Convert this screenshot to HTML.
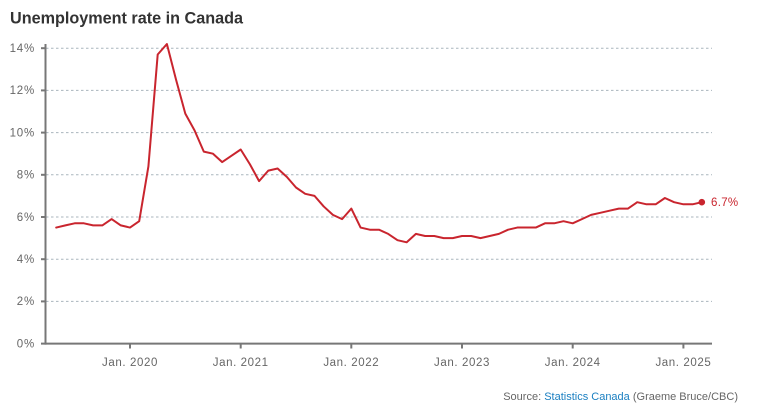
<!DOCTYPE html>
<html>
<head>
<meta charset="utf-8">
<style>
  html, body { margin: 0; padding: 0; background: #fff; }
  body { width: 770px; height: 407px; overflow: hidden; }
  svg { display: block; }
  text { font-family: "Liberation Sans", "DejaVu Sans", sans-serif; }
</style>
</head>
<body>
<svg width="770" height="407" viewBox="0 0 770 407" xmlns="http://www.w3.org/2000/svg">
  <!-- Title -->
  <text x="10" y="23.5" font-size="16.2" font-weight="bold" fill="#333">Unemployment rate in Canada</text>

  <!-- Gridlines -->
  <g stroke="#a9b5bd" stroke-width="1" stroke-dasharray="2.5,2.5">
    <line x1="46" y1="48.2" x2="712" y2="48.2"/>
    <line x1="46" y1="90.4" x2="712" y2="90.4"/>
    <line x1="46" y1="132.6" x2="712" y2="132.6"/>
    <line x1="46" y1="174.8" x2="712" y2="174.8"/>
    <line x1="46" y1="217.0" x2="712" y2="217.0"/>
    <line x1="46" y1="259.2" x2="712" y2="259.2"/>
    <line x1="46" y1="301.4" x2="712" y2="301.4"/>
  </g>

  <!-- Y tick labels -->
  <g font-size="11.5" fill="#666" text-anchor="end" letter-spacing="0.8">
    <text x="35" y="52">14%</text>
    <text x="35" y="94.2">12%</text>
    <text x="35" y="136.4">10%</text>
    <text x="35" y="178.6">8%</text>
    <text x="35" y="220.8">6%</text>
    <text x="35" y="263">4%</text>
    <text x="35" y="305.2">2%</text>
    <text x="35" y="347.4">0%</text>
  </g>

  <!-- Axes -->
  <g stroke="#777" stroke-width="2">
    <line x1="45.5" y1="44" x2="45.5" y2="344.6"/>
    <line x1="41" y1="343.6" x2="712" y2="343.6"/>
    <line x1="41" y1="48.2" x2="45" y2="48.2"/>
    <line x1="41" y1="90.4" x2="45" y2="90.4"/>
    <line x1="41" y1="132.6" x2="45" y2="132.6"/>
    <line x1="41" y1="174.8" x2="45" y2="174.8"/>
    <line x1="41" y1="217.0" x2="45" y2="217.0"/>
    <line x1="41" y1="259.2" x2="45" y2="259.2"/>
    <line x1="41" y1="301.4" x2="45" y2="301.4"/>
    <line x1="130" y1="343.6" x2="130" y2="348.5"/>
    <line x1="240.7" y1="343.6" x2="240.7" y2="348.5"/>
    <line x1="351.3" y1="343.6" x2="351.3" y2="348.5"/>
    <line x1="462" y1="343.6" x2="462" y2="348.5"/>
    <line x1="572.7" y1="343.6" x2="572.7" y2="348.5"/>
    <line x1="683.4" y1="343.6" x2="683.4" y2="348.5"/>
  </g>

  <!-- X tick labels -->
  <g font-size="11.5" fill="#666" text-anchor="middle" letter-spacing="0.6">
    <text x="130" y="366">Jan. 2020</text>
    <text x="240.7" y="366">Jan. 2021</text>
    <text x="351.3" y="366">Jan. 2022</text>
    <text x="462" y="366">Jan. 2023</text>
    <text x="572.7" y="366">Jan. 2024</text>
    <text x="683.4" y="366">Jan. 2025</text>
  </g>

  <!-- Series -->
  <polyline fill="none" stroke="#c9252e" stroke-width="2" stroke-linejoin="round" stroke-linecap="round"
    points="56.2,227.55 65.4,225.4 74.7,223.3 83.9,223.3 93.1,225.4 102.3,225.4 111.6,219.1 120.8,225.4 130,227.55 139.2,221.2 148.4,166.4 157.7,54.5 166.9,44.0 176.1,79.85 185.3,113.6 194.6,130.5 203.8,151.6 213.0,153.7 222.2,162.1 231.4,155.8 240.7,149.5 249.9,164.25 259.1,181.1 268.3,170.6 277.6,168.5 286.8,176.9 296.0,187.5 305.2,193.8 314.5,195.9 323.7,206.45 332.9,214.9 342.1,219.1 351.3,208.6 360.6,227.55 369.8,229.7 379.0,229.7 388.2,233.9 397.5,240.2 406.7,242.3 415.9,233.9 425.1,236.0 434.3,236.0 443.6,238.1 452.8,238.1 462.0,236.0 471.2,236.0 480.5,238.1 489.7,236.0 498.9,233.9 508.1,229.7 517.3,227.55 526.6,227.55 535.8,227.55 545.0,223.3 554.2,223.3 563.5,221.2 572.7,223.3 581.9,219.1 591.1,214.9 600.3,212.8 609.6,210.7 618.8,208.6 628.0,208.6 637.2,202.2 646.5,204.3 655.7,204.3 664.9,198.0 674.1,202.2 683.4,204.3 692.6,204.3 701.8,202.2"/>
  <circle cx="701.8" cy="202.2" r="3.3" fill="#c9252e"/>
  <text x="711" y="206" font-size="11.5" fill="#c9252e" letter-spacing="0.3">6.7%</text>

  <!-- Source -->
  <text x="738" y="400" font-size="11" fill="#666" text-anchor="end">Source: <tspan fill="#1a7fc1">Statistics Canada</tspan> (Graeme Bruce/CBC)</text>
</svg>
</body>
</html>
